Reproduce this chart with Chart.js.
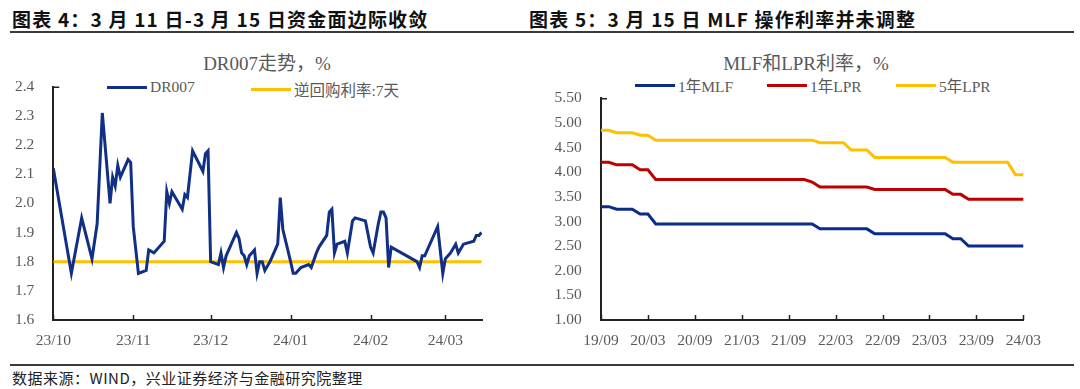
<!DOCTYPE html>
<html>
<head>
<meta charset="utf-8">
<script src="https://cdn.jsdelivr.net/npm/chart.js@4.4.1/dist/chart.umd.min.js"></script>
<style>
  body { margin: 0; width: 1080px; height: 389px; background: #fff; position: relative; overflow: hidden; }
  .head { position: absolute; top: 5px; font: bold 19px "Noto Sans CJK SC", sans-serif; letter-spacing: 1.2px; color: #111; white-space: nowrap; }
  .rule { position: absolute; left: 10px; width: 1064px; background: #3a3a3a; }
  .source { position: absolute; left: 12px; top: 367px; font: 15px "Noto Sans CJK SC", sans-serif; color: #222; letter-spacing: 0.5px; white-space: nowrap; }
  .ctitle { position: absolute; font: 19px "Liberation Serif", "Noto Sans CJK SC", serif; color: #595959; white-space: nowrap; transform: translateX(-50%); }
  .leg { position: absolute; font: 15.5px "Liberation Serif", "Noto Sans CJK SC", serif; color: #595959; white-space: nowrap; display: flex; align-items: center; }
  .leg span.swatch { display: inline-block; width: 40px; height: 3px; margin-right: 3px; }
  .wrap { position: absolute; }
</style>
</head>
<body>
<div class="head" style="left:12px">图表 4：3 月 11 日-3 月 15 日资金面边际收敛</div>
<div class="head" style="left:529px">图表 5：3 月 15 日 MLF 操作利率并未调整</div>
<div class="rule" style="top:31px;height:2px"></div>

<div class="ctitle" style="left:267px;top:48px">DR007走势，%</div>
<div class="leg" style="left:107px;top:78px"><span class="swatch" style="background:#112F84"></span>DR007</div>
<div class="leg" style="left:251px;top:78px"><span class="swatch" style="background:#FFC000"></span>逆回购利率:7天</div>

<div class="ctitle" style="left:806px;top:48px">MLF和LPR利率，%</div>
<div class="leg" style="left:635px;top:74px"><span class="swatch" style="background:#0B2C8A"></span>1年MLF</div>
<div class="leg" style="left:767px;top:74px"><span class="swatch" style="background:#C00000"></span>1年LPR</div>
<div class="leg" style="left:896px;top:74px"><span class="swatch" style="background:#FFC000"></span>5年LPR</div>

<div class="wrap" style="left:0;top:70px"><canvas id="dr-chart" width="530" height="290"></canvas></div>
<div class="wrap" style="left:540px;top:70px"><canvas id="rate-chart" width="540" height="290"></canvas></div>

<div class="rule" style="top:364px;height:2px"></div>
<div class="source">数据来源：WIND，兴业证券经济与金融研究院整理</div>

<script>
// ---------------- left chart data: DR007 daily ----------------
const drDates = [
  '2023-10-01','2023-10-08','2023-10-12','2023-10-14','2023-10-16','2023-10-18','2023-10-20',
  '2023-10-23','2023-10-24','2023-10-25','2023-10-26','2023-10-27','2023-10-30','2023-10-31',
  '2023-11-01','2023-11-03','2023-11-06','2023-11-07','2023-11-09','2023-11-13','2023-11-14',
  '2023-11-15','2023-11-16','2023-11-20','2023-11-21','2023-11-22','2023-11-24','2023-11-28',
  '2023-11-29','2023-11-30','2023-12-01','2023-12-04','2023-12-05','2023-12-06','2023-12-07',
  '2023-12-11','2023-12-12','2023-12-13','2023-12-14','2023-12-15','2023-12-16','2023-12-18',
  '2023-12-19','2023-12-20','2023-12-21','2023-12-22','2023-12-24','2023-12-25','2023-12-27',
  '2023-12-28','2023-12-29','2024-01-01','2024-01-02','2024-01-03','2024-01-05','2024-01-08',
  '2024-01-09','2024-01-11','2024-01-12','2024-01-15','2024-01-16','2024-01-17','2024-01-18',
  '2024-01-19','2024-01-22','2024-01-23','2024-01-25','2024-01-26','2024-01-30','2024-02-01',
  '2024-02-02','2024-02-04','2024-02-05','2024-02-06','2024-02-07','2024-02-08','2024-02-09',
  '2024-02-19','2024-02-20','2024-02-21','2024-02-22','2024-02-27','2024-02-28','2024-02-29',
  '2024-03-01','2024-03-03','2024-03-05','2024-03-06','2024-03-08','2024-03-12','2024-03-13',
  '2024-03-14','2024-03-15'
];
const drValues = [
  2.12,1.76,1.95,1.88,1.81,1.93,2.31,
  2.00,2.09,2.06,2.13,2.09,2.15,2.14,
  1.92,1.76,1.77,1.84,1.83,1.87,2.04,
  2.00,2.04,1.98,2.03,2.02,2.18,2.11,
  2.17,2.18,1.80,1.79,1.83,1.78,1.82,
  1.90,1.88,1.83,1.82,1.79,1.82,1.84,
  1.76,1.80,1.80,1.77,1.80,1.82,1.86,
  2.02,1.91,1.80,1.76,1.76,1.78,1.79,
  1.78,1.83,1.85,1.89,1.97,1.98,1.83,
  1.86,1.87,1.83,1.94,1.95,1.94,1.85,
  1.83,1.93,1.97,1.97,1.95,1.78,1.85,
  1.80,1.78,1.82,1.82,1.92,1.84,1.76,
  1.81,1.83,1.86,1.83,1.86,1.87,1.89,
  1.89,1.90
];
const repoDates = ['2023-10-01', '2024-03-15'];
const repoValues = [1.80, 1.80];
const drTickDates = ['2023-10-01','2023-11-01','2023-12-01','2024-01-01','2024-02-01','2024-03-01'];
const drTickLabels = ['23/10','23/11','23/12','24/01','24/02','24/03'];

// ---------------- right chart data: monthly MLF / LPR, 2019-09 .. 2024-03 ----------------
const mlf1y = [
  3.30,3.30,3.25,3.25,
  3.25,3.15,3.15,2.95,2.95,2.95,2.95,2.95,2.95,2.95,2.95,2.95,
  2.95,2.95,2.95,2.95,2.95,2.95,2.95,2.95,2.95,2.95,2.95,2.95,
  2.85,2.85,2.85,2.85,2.85,2.85,2.85,2.75,2.75,2.75,2.75,2.75,
  2.75,2.75,2.75,2.75,2.75,2.65,2.65,2.50,2.50,2.50,2.50,2.50,
  2.50,2.50,2.50
];
const lpr1y = [
  4.20,4.20,4.15,4.15,
  4.15,4.05,4.05,3.85,3.85,3.85,3.85,3.85,3.85,3.85,3.85,3.85,
  3.85,3.85,3.85,3.85,3.85,3.85,3.85,3.85,3.85,3.85,3.85,3.80,
  3.70,3.70,3.70,3.70,3.70,3.70,3.70,3.65,3.65,3.65,3.65,3.65,
  3.65,3.65,3.65,3.65,3.65,3.55,3.55,3.45,3.45,3.45,3.45,3.45,
  3.45,3.45,3.45
];
const lpr5y = [
  4.85,4.85,4.80,4.80,
  4.80,4.75,4.75,4.65,4.65,4.65,4.65,4.65,4.65,4.65,4.65,4.65,
  4.65,4.65,4.65,4.65,4.65,4.65,4.65,4.65,4.65,4.65,4.65,4.65,
  4.60,4.60,4.60,4.60,4.45,4.45,4.45,4.30,4.30,4.30,4.30,4.30,
  4.30,4.30,4.30,4.30,4.30,4.20,4.20,4.20,4.20,4.20,4.20,4.20,
  4.20,3.95,3.95
];
// month categories 19/09 .. 24/03
const months = [];
for (let y = 2019; y <= 2024; y++) {
  for (let m = 1; m <= 12; m++) {
    if ((y === 2019 && m < 9) || (y === 2024 && m > 3)) continue;
    months.push(String(y).slice(2) + '/' + String(m).padStart(2, '0'));
  }
}

const axisColor = '#222';
const labelColor = '#595959';
const tickFont = { family: "'Liberation Serif', 'Times New Roman', serif", size: 15.5 };

// days since the first tick date, so the left x axis behaves like a date axis
const dayZero = Date.UTC(2023, 9, 1);
function dayOf(s) {
  const p = s.split('-').map(Number);
  return (Date.UTC(p[0], p[1] - 1, p[2]) - dayZero) / 86400000;
}

// Excel style: short tick marks pointing into the plot
const innerTicks = {
  id: 'innerTicks',
  afterDraw(chart) {
    const { ctx, chartArea } = chart;
    const x = chart.scales.x;
    ctx.save();
    ctx.strokeStyle = axisColor;
    ctx.lineWidth = 1.5;
    ctx.beginPath();
    x.ticks.forEach((t, i) => {
      const px = Math.round(x.getPixelForTick(i)) + 0.5;
      ctx.moveTo(px, chartArea.bottom);
      ctx.lineTo(px, chartArea.bottom - 5);
    });
    ctx.moveTo(chartArea.left, chartArea.top + 0.5);
    ctx.lineTo(chartArea.left + 6, chartArea.top + 0.5);
    ctx.stroke();
    ctx.restore();
  }
};

function lineSet(label, data, color) {
  return { label: label, data: data, borderColor: color, backgroundColor: color, borderWidth: 3,
           pointRadius: 0, tension: 0, fill: false };
}

// the tick padding would otherwise be added above/below the y axis by the layout
function fixYAxis(width) {
  return s => { s.width = width; s.paddingTop = 4; s.paddingBottom = 4; };
}

// ---------------- DR007 chart ----------------
new Chart(document.getElementById('dr-chart').getContext('2d'), {
  type: 'line',
  data: {
    datasets: [
      lineSet('DR007', drDates.map((d, i) => ({ x: dayOf(d), y: drValues[i] })), '#112F84'),
      lineSet('逆回购利率:7天', repoDates.map((d, i) => ({ x: dayOf(d), y: repoValues[i] })), '#FFC000')
    ]
  },
  options: {
    responsive: false,
    animation: false,
    layout: { padding: { left: 0, top: 16.7, right: 48, bottom: 0 } },
    plugins: { legend: { display: false }, tooltip: { enabled: false } },
    scales: {
      x: {
        type: 'linear', min: 0, max: 166.2,
        grid: { display: false, drawTicks: false },
        border: { color: axisColor, width: 2 },
        ticks: { color: labelColor, font: tickFont, padding: 12, maxRotation: 0, autoSkip: false,
                 callback: v => drTickLabels[drTickDates.map(dayOf).indexOf(v)] },
        afterBuildTicks: s => { s.ticks = drTickDates.map(d => ({ value: dayOf(d) })); },
        afterFit: s => { s.height = 40; }
      },
      y: {
        min: 1.6, max: 2.4,
        grid: { display: false, drawTicks: false },
        border: { color: axisColor, width: 2 },
        ticks: { stepSize: 0.1, color: labelColor, font: tickFont, padding: 19, callback: v => v.toFixed(1) },
        afterFit: fixYAxis(53.3)
      }
    }
  },
  plugins: [innerTicks]
});

// ---------------- MLF / LPR chart ----------------
new Chart(document.getElementById('rate-chart').getContext('2d'), {
  type: 'line',
  data: {
    labels: months,
    datasets: [
      lineSet('1年MLF', mlf1y, '#0B2C8A'),
      lineSet('1年LPR', lpr1y, '#C00000'),
      lineSet('5年LPR', lpr5y, '#FFC000')
    ]
  },
  options: {
    responsive: false,
    animation: false,
    layout: { padding: { left: 0, top: 28.3, right: 56.7, bottom: 0 } },
    plugins: { legend: { display: false }, tooltip: { enabled: false } },
    scales: {
      x: {
        type: 'category', offset: false,
        grid: { display: false, drawTicks: false },
        border: { color: axisColor, width: 2 },
        ticks: { color: labelColor, font: tickFont, padding: 12, maxRotation: 0, autoSkip: false },
        afterBuildTicks: s => { s.ticks = s.ticks.filter(t => t.value % 6 === 0); },
        afterFit: s => { s.height = 40; }
      },
      y: {
        min: 1, max: 5.5,
        grid: { display: false, drawTicks: false },
        border: { color: axisColor, width: 2 },
        ticks: { stepSize: 0.5, color: labelColor, font: tickFont, padding: 19.3, callback: v => v.toFixed(2) },
        afterFit: fixYAxis(61)
      }
    }
  },
  plugins: [innerTicks]
});
</script>
</body>
</html>
